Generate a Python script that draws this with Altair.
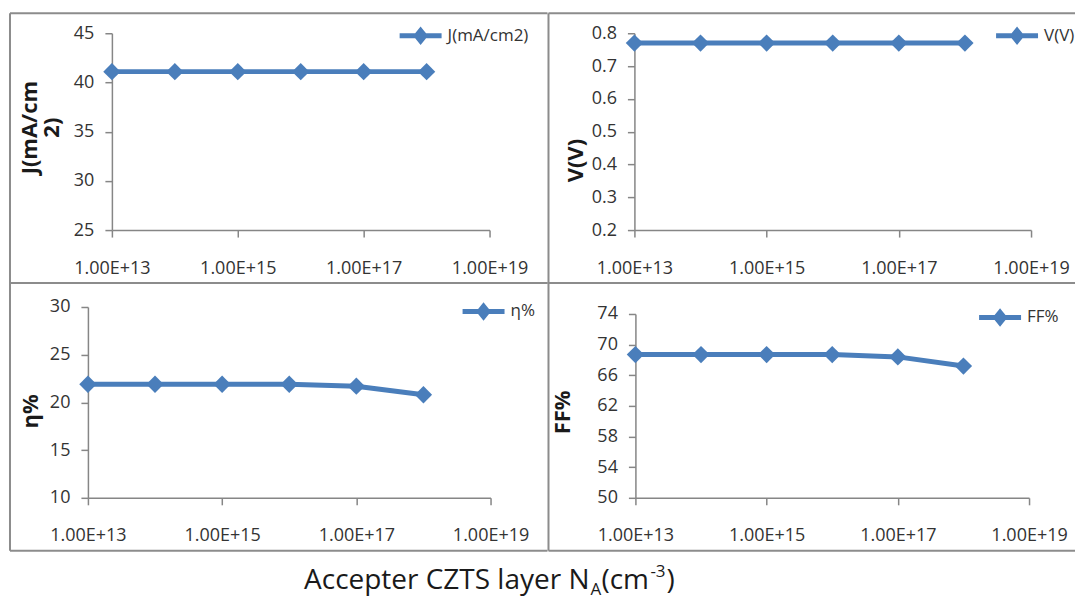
import altair as alt
import pandas as pd

# ---------------- data ----------------
na_values = [1e13, 1e14, 1e15, 1e16, 1e17, 1e18]
j_values = [41.1, 41.1, 41.1, 41.1, 41.1, 41.1]
v_values = [0.77, 0.77, 0.77, 0.77, 0.77, 0.77]
eta_values = [21.9, 21.9, 21.9, 21.9, 21.7, 20.8]
ff_values = [68.7, 68.7, 68.7, 68.7, 68.4, 67.2]

x_tick_values = [1e13, 1e15, 1e17, 1e19]
x_tick_labels = ["1.00E+13", "1.00E+15", "1.00E+17", "1.00E+19"]

series_names = ["J(mA/cm2)", "V(V)", "η%", "FF%"]
y_titles = [["J(mA/cm", "2)"], "V(V)", "η%", "FF%"]
y_domains = [[25, 45], [0.2, 0.8], [10, 30], [50, 74]]
y_ticks = [
    [25, 30, 35, 40, 45],
    [0.2, 0.3, 0.4, 0.5, 0.6, 0.7, 0.8],
    [10, 15, 20, 25, 30],
    [50, 54, 58, 62, 66, 70, 74],
]
y_formats = ["d", ".1f", "d", "d"]
x_title_pieces = ["Accepter CZTS layer N", "A", "(cm", "-3", ")"]

# ---------------- style ----------------
BLUE = "#4A7EBB"
AXIS_GRAY = "#868686"
BOX_GRAY = "#8c8c8c"
FONT = "Open Sans"
SYM = "M-1.68,0L1.68,0M0,-0.42L0.34,0L0,0.42L-0.34,0Z"

label_expr = " : ".join(
    f"datum.value == {v} ? '{lab}'" for v, lab in zip(x_tick_values, x_tick_labels)
) + " : ''"

one = pd.DataFrame({"b": [0]})


def panel(i, CW, CH, px0, px1, py0, py1, title_x, title_y, legend_x, legend_y):
    """CW, CH: cell (box) size; px0..px1 / py0..py1: plot area inside the cell."""
    df = pd.DataFrame({"NA": na_values, "val": [j_values, v_values, eta_values, ff_values][i],
                       "series": series_names[i]})
    xenc = alt.X(
        "NA:Q",
        scale=alt.Scale(type="log", domain=[1e13, 1e19], nice=False, range=[px0, px1]),
        axis=alt.Axis(values=x_tick_values, labelExpr=label_expr, title=None, grid=False,
                      offset=-(CH - py1),
                      tickSize=7, labelPadding=22, labelFont=FONT, labelFontSize=18,
                      labelColor="#333333", domainColor=AXIS_GRAY, tickColor=AXIS_GRAY,
                      domainWidth=1.5, tickWidth=1.5, labelFlush=False),
    )
    yenc = alt.Y(
        "val:Q",
        scale=alt.Scale(domain=y_domains[i], nice=False, zero=False, range=[py1, py0]),
        axis=alt.Axis(values=y_ticks[i], format=y_formats[i], title=y_titles[i], grid=False,
                      offset=-px0,
                      tickSize=7, labelPadding=11, labelFont=FONT, labelFontSize=18,
                      labelColor="#333333", domainColor=AXIS_GRAY, tickColor=AXIS_GRAY,
                      domainWidth=1.5, tickWidth=1.5,
                      titleFont=FONT, titleFontSize=22, titleFontWeight="bold",
                      titleColor="#1a1a1a", titleAngle=270, titleAlign="center",
                      titleBaseline="middle", titleX=title_x, titleY=title_y,
                      titleLineHeight=22, labelFlush=False),
    )
    base = alt.Chart(one)
    rule = dict(stroke=BOX_GRAY, strokeWidth=2)
    frame = [
        base.mark_rule(**rule).encode(x=alt.value(0), y=alt.value(0), y2=alt.value(CH)),
        base.mark_rule(**rule).encode(x=alt.value(0), x2=alt.value(CW - 1), y=alt.value(0)),
        base.mark_rule(**rule).encode(x=alt.value(0), x2=alt.value(CW - 1), y=alt.value(CH)),
    ]
    line = alt.Chart(df).mark_line(strokeWidth=5).encode(
        x=xenc, y=yenc,
        stroke=alt.Stroke(
            "series:N",
            scale=alt.Scale(domain=[series_names[i]], range=[BLUE]),
            legend=alt.Legend(title=None, orient="none", legendX=legend_x, legendY=legend_y,
                              symbolType=SYM, symbolSize=625, symbolStrokeWidth=5,
                              symbolFillColor=BLUE, symbolStrokeColor=BLUE,
                              labelFont=FONT, labelFontSize=17, labelColor="#333333",
                              labelOffset=12, padding=0),
        ),
    )
    pts = alt.Chart(df).mark_point(shape="diamond", filled=True, size=300, color=BLUE,
                                   opacity=1).encode(x=xenc, y=yenc)
    return alt.layer(*frame, line, pts).properties(width=CW, height=CH)


tl = panel(0, 539, 270, 102, 480, 20, 217, title_x=-82, title_y=114,
           legend_x=396, legend_y=7.5)
tr = panel(1, 528, 270, 86, 483, 20, 217, title_x=-59, title_y=147,
           legend_x=454, legend_y=7.5)
bl = panel(2, 539, 268, 78, 481, 24, 215, title_x=-57, title_y=128,
           legend_x=459, legend_y=13.5)
br = panel(3, 528, 268, 87, 481, 31, 215, title_x=-73, title_y=129,
           legend_x=437, legend_y=19.5)

base = alt.Chart(one)
tstyle = dict(font=FONT, baseline="alphabetic", color="#1a1a1a")
t_main = base.mark_text(text=x_title_pieces[0], fontSize=28, align="right", **tstyle).encode(
    x=alt.value(580), y=alt.value(35))
t_sub = base.mark_text(text=x_title_pieces[1], fontSize=17, align="left", **tstyle).encode(
    x=alt.value(581), y=alt.value(41))
t_cm = base.mark_text(text=x_title_pieces[2], fontSize=28, align="left", **tstyle).encode(
    x=alt.value(592), y=alt.value(35))
t_sup = base.mark_text(text=x_title_pieces[3], fontSize=17, align="left", **tstyle).encode(
    x=alt.value(641), y=alt.value(23))
t_end = base.mark_text(text=x_title_pieces[4], fontSize=28, align="left", **tstyle).encode(
    x=alt.value(657), y=alt.value(35))
bottom = alt.layer(t_main, t_sub, t_cm, t_sup, t_end).properties(width=1060, height=40)

grid = alt.concat(tl, tr, bl, br, columns=2, spacing=0, bounds="flush").resolve_scale(
    stroke="independent").resolve_legend(stroke="independent")

chart = alt.vconcat(grid, bottom, spacing=0).resolve_scale(
    stroke="independent").resolve_legend(stroke="independent").properties(
    padding={"left": 8, "top": 11, "right": 0, "bottom": 0},
    background="white",
).configure_view(stroke="transparent")

chart.save("out.html", embed_options={"renderer": "svg", "actions": False})
